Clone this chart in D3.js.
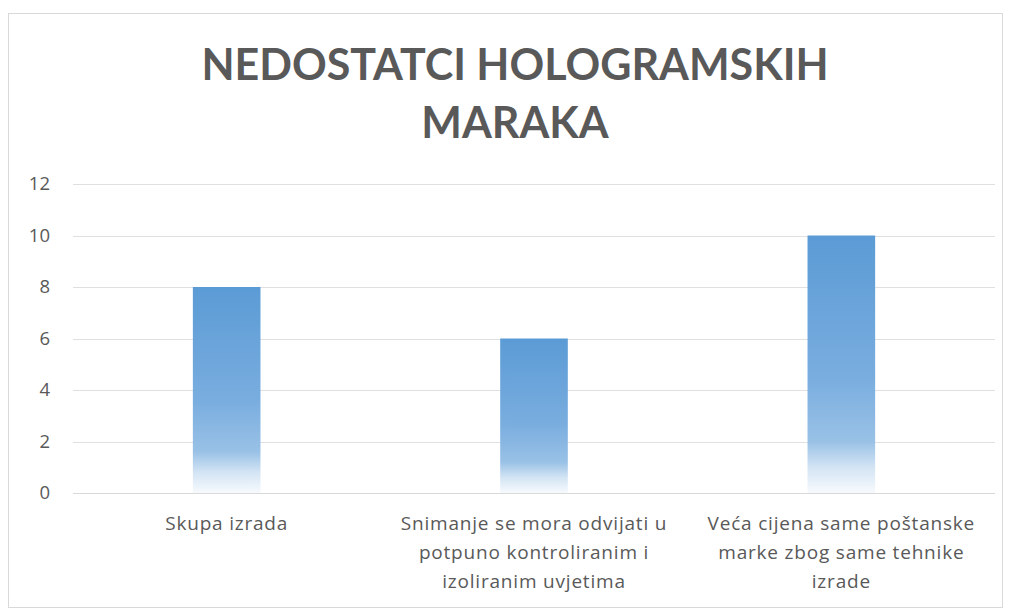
<!DOCTYPE html>
<html>
<head>
<meta charset="utf-8">
<script src="https://cdn.jsdelivr.net/npm/d3@7.9.0/dist/d3.min.js"></script>
<style>
  body { margin: 0; background: #fff; }
  svg { display: block; font-family: Lato, "Open Sans", sans-serif; }
  .lbl { font-family: "Open Sans", Lato, sans-serif; }
</style>
</head>
<body>
<svg id="chart" width="1011" height="608"></svg>
<script>
const title = ["NEDOSTATCI HOLOGRAMSKIH", "MARAKA"];
const categories = [
  ["Skupa izrada"],
  ["Snimanje se mora odvijati u", "potpuno kontroliranim i", "izoliranim uvjetima"],
  ["Veća cijena same poštanske", "marke zbog same tehnike", "izrade"]
];
const values = [8, 6, 10];
const yTicks = [0, 2, 4, 6, 8, 10, 12];

const svg = d3.select("#chart");
const W = 1011, H = 608;
const margin = { left: 73, right: 16, top: 184, bottom: 115 };

// chart frame
svg.append("rect")
  .attr("x", 8.5).attr("y", 13.5)
  .attr("width", W - 17).attr("height", H - 14)
  .attr("fill", "#fff")
  .attr("stroke", "#d9d9d9");

const x = d3.scaleBand()
  .domain(d3.range(categories.length))
  .range([margin.left, W - margin.right])
  .paddingInner(0.78)
  .paddingOuter(0.39);

const y = d3.scaleLinear()
  .domain([0, 12])
  .range([H - margin.bottom, margin.top]);

// gradient
const defs = svg.append("defs");
const grad = defs.append("linearGradient")
  .attr("id", "barGrad")
  .attr("x1", 0).attr("y1", 0).attr("x2", 0).attr("y2", 1);
[
  [0, "#5b9bd5"],
  [0.55, "#79addf"],
  [0.8, "#99c1e6"],
  [0.9, "#d3e4f4"],
  [1, "#f7fafd"]
].forEach(([o, c]) => grad.append("stop").attr("offset", o).attr("stop-color", c));

// gridlines
svg.append("g")
  .selectAll("line")
  .data(yTicks)
  .enter()
  .append("line")
  .attr("x1", margin.left).attr("x2", W - margin.right)
  .attr("y1", (d) => Math.round(y(d)) + 0.5)
  .attr("y2", (d) => Math.round(y(d)) + 0.5)
  .attr("stroke", (d) => (d === 0 ? "#d9d9d9" : "#e0e0e0"))
  .attr("stroke-width", 1);

// y tick labels
svg.append("g")
  .selectAll("text")
  .data(yTicks)
  .enter()
  .append("text")
  .attr("class", "lbl")
  .attr("x", 50)
  .attr("y", (d) => y(d))
  .attr("dy", "0.35em")
  .attr("text-anchor", "end")
  .attr("fill", "#595959")
  .attr("font-size", 18.5)
  .text((d) => d);

// bars
svg.append("g")
  .selectAll("rect")
  .data(values)
  .enter()
  .append("rect")
  .attr("x", (d, i) => x(i))
  .attr("y", (d) => y(d))
  .attr("width", x.bandwidth())
  .attr("height", (d) => y(0) - y(d))
  .attr("fill", "url(#barGrad)");

// category labels
const cat = svg.append("g")
  .selectAll("text")
  .data(categories)
  .enter()
  .append("text")
  .attr("class", "lbl")
  .attr("text-anchor", "middle")
  .attr("fill", "#595959")
  .attr("font-size", 19)
  .attr("letter-spacing", 0.8);

cat.selectAll("tspan")
  .data((d, i) => d.map((line) => ({ line, i })))
  .enter()
  .append("tspan")
  .attr("x", (d) => x(d.i) + x.bandwidth() / 2)
  .attr("y", (d, j) => 530 + j * 29)
  .text((d) => d.line);

// title
svg.append("g")
  .selectAll("text")
  .data(title)
  .enter()
  .append("text")
  .attr("x", 515)
  .attr("y", (d, i) => 80 + i * 58)
  .attr("text-anchor", "middle")
  .attr("fill", "#595959")
  .attr("font-size", 43)
  .attr("font-weight", "bold")
  .text((d) => d);
</script>
</body>
</html>
